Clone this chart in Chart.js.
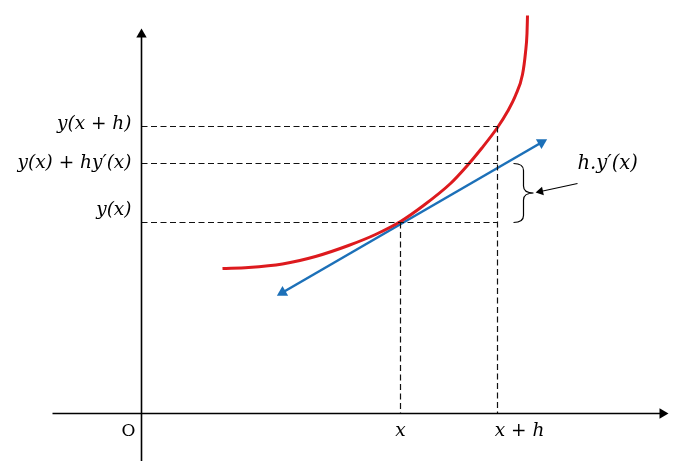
<!DOCTYPE html>
<html><head><meta charset="utf-8">
<script src="https://cdn.jsdelivr.net/npm/chart.js@4.4.1/dist/chart.umd.min.js"></script>
<style>html,body{margin:0;padding:0;background:#fff;overflow:hidden}#wrap{width:681px;height:461px;position:relative}</style>
</head><body><div id="wrap"><canvas id="c"></canvas></div>
<script>
// Curve y(x) (red)
const curveX = [81,107,141,174,207,234,259,282,309,325,340,356,366,374,381,384,385.5,386];
const curveY = [145,146,149.5,157,168,179,192,208,230,247,265,286,302,318,339,361,380,398];
// Tangent line (blue) end points
const tangentX = [141, 400];
const tangentY = [121, 271];
// Key values
const xVal = 259, xhVal = 356;
const yxVal = 191, yLinVal = 250, yxhVal = 287;
// Axis extents
const xAxisRange = [-89, 521];
const yAxisRange = [-48, 379];
// Brace (x positions) and pointer arrow
const braceX = [372, 382, 392];
const pointerX = [436, 399];
const pointerY = [230, 222];
// Labels
const yTickLabels = ['y(x + h)', 'y(x) + hy′(x)', 'y(x)'];
const yTickValues = [yxhVal, yLinVal, yxVal];
const xTickLabels = ['x', 'x + h'];
const xTickValues = [xVal, xhVal];
const originLabel = 'O';
const braceLabel = 'h.y′(x)';

const pts = (xs, ys) => xs.map((x, i) => ({x, y: ys[i]}));

function arrowRot(ctx) {
  const d = ctx.dataset.data, i = ctx.dataIndex;
  const j = i === 0 ? 1 : i - 1;
  const sx = ctx.chart.scales.x, sy = ctx.chart.scales.y;
  const dx = sx.getPixelForValue(d[i].x) - sx.getPixelForValue(d[j].x);
  const dy = sy.getPixelForValue(d[i].y) - sy.getPixelForValue(d[j].y);
  return Math.atan2(dx, -dy) * 180 / Math.PI;
}

const dash = {borderColor: '#111', borderWidth: 1.2, borderDash: [6, 3.5], pointRadius: 0, showLine: true};

const datasets = [
  {data: pts(xAxisRange, [0, 0]), borderColor: '#000', borderWidth: 1.6, showLine: true,
   pointStyle: 'triangle', pointRadius: [0, 6], pointRotation: arrowRot,
   pointBackgroundColor: '#000', pointBorderColor: '#000', pointBorderWidth: 0},
  {data: pts([0, 0], yAxisRange), borderColor: '#000', borderWidth: 1.6, showLine: true,
   pointStyle: 'triangle', pointRadius: [0, 6], pointRotation: arrowRot,
   pointBackgroundColor: '#000', pointBorderColor: '#000', pointBorderWidth: 0},
  Object.assign({data: pts([0, xhVal], [yxhVal, yxhVal])}, dash),
  Object.assign({data: pts([0, xhVal], [yLinVal, yLinVal])}, dash),
  Object.assign({data: pts([0, xhVal], [yxVal, yxVal])}, dash),
  Object.assign({data: pts([xVal, xVal], [yxVal, 0])}, dash),
  Object.assign({data: pts([xhVal, xhVal], [yxhVal, 0])}, dash),
  {data: pts(curveX, curveY), borderColor: '#DD1A1E', borderWidth: 3, showLine: true,
   cubicInterpolationMode: 'monotone', pointRadius: 0},
  {data: pts(tangentX, tangentY), borderColor: '#1C70B8', borderWidth: 2.6, showLine: true,
   pointStyle: 'triangle', pointRadius: 6.5, pointRotation: arrowRot,
   pointBackgroundColor: '#1C70B8', pointBorderColor: '#1C70B8', pointBorderWidth: 0},
  {data: pts(pointerX, pointerY), borderColor: '#000', borderWidth: 1.2, showLine: true,
   pointStyle: 'triangle', pointRadius: [0, 5], pointRotation: arrowRot,
   pointBackgroundColor: '#000', pointBorderColor: '#000', pointBorderWidth: 0}
];

const MATH_FONT = 'italic 18.5px "DejaVu Serif", serif';

const annot = {
  id: 'annot',
  afterDatasetsDraw(chart) {
    const c = chart.ctx, sx = chart.scales.x, sy = chart.scales.y;
    c.save();
    // brace
    const x0 = sx.getPixelForValue(braceX[0]), xs = sx.getPixelForValue(braceX[1]), xt = sx.getPixelForValue(braceX[2]);
    const top = sy.getPixelForValue(yLinVal), bot = sy.getPixelForValue(yxVal), mid = (top + bot) / 2, r = 7;
    c.strokeStyle = '#000'; c.lineWidth = 1.2;
    c.beginPath();
    c.moveTo(x0, top);
    c.quadraticCurveTo(xs, top, xs, top + r);
    c.lineTo(xs, mid - r);
    c.quadraticCurveTo(xs, mid, xt, mid);
    c.quadraticCurveTo(xs, mid, xs, mid + r);
    c.lineTo(xs, bot - r);
    c.quadraticCurveTo(xs, bot, x0, bot);
    c.stroke();
    // y labels
    c.fillStyle = '#000';
    c.font = MATH_FONT;
    c.textAlign = 'right'; c.textBaseline = 'middle';
    const yOff = [-2, 0, -12];
    yTickLabels.forEach((t, i) => c.fillText(t, sx.getPixelForValue(0) - 10, sy.getPixelForValue(yTickValues[i]) + yOff[i]));
    // x labels
    c.textAlign = 'center'; c.textBaseline = 'middle';
    xTickLabels.forEach((t, i) => c.fillText(t, sx.getPixelForValue(xTickValues[i]) + (i ? 22 : 0), sy.getPixelForValue(0) + 18));
    // brace label
    c.textAlign = 'left';
    c.font = 'italic 19.5px "DejaVu Serif", serif';
    c.fillText(braceLabel, sx.getPixelForValue(pointerX[0]), sy.getPixelForValue(yLinVal));
    // origin
    c.font = '17px "DejaVu Serif", serif';
    c.textAlign = 'center';
    c.fillText(originLabel, sx.getPixelForValue(0) - 13, sy.getPixelForValue(0) + 18);
    c.restore();
  }
};

new Chart(document.getElementById('c'), {
  type: 'scatter',
  data: {datasets},
  options: {
    responsive: true, maintainAspectRatio: false, animation: false,
    layout: {padding: 0, autoPadding: false},
    plugins: {legend: {display: false}, tooltip: {enabled: false}},
    scales: {
      x: {type: 'linear', min: -141.5, max: 539.5, display: false},
      y: {type: 'linear', min: -47.5, max: 413.5, display: false}
    }
  },
  plugins: [annot]
});
</script></body></html>
